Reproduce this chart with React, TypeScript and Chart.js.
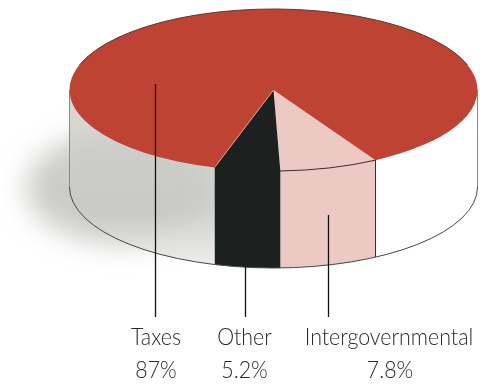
import React, { useEffect, useRef } from "react";
import { Chart, registerables } from "chart.js";

Chart.register(...registerables);

// Revenue shares, clockwise from the front-right edge of the disc
const categories = ["Intergovernmental", "Other", "Taxes"];
const shares = [7.8, 5.2, 87];
const topColors = ["#ecc9c3", "#1c211f", "#bf4332"];
const wallColors = ["#ecc9c3", "#1c211f", "#ffffff"];
const startRotation = 150;

// Order of the captions under the drum
const captionOrder = ["Taxes", "Other", "Intergovernmental"];

const DISC = { cx: 273.5, cy: 90, rx: 204, ry: 81, depth: 97 };
const LEADERS: Record<string, { x: number; from: number; to: number; textX: number }> = {
  Taxes: { x: 155.5, from: 84, to: 317, textX: 156 },
  Other: { x: 245.5, from: 267, to: 317, textX: 244.5 },
  Intergovernmental: { x: 328.5, from: 215, to: 317, textX: 389 },
};
const CAPTION_SQUEEZE = 0.93;

const TAU = Math.PI * 2;

// Splits an arc into the runs of it that lie on the visible, front half of the drum
function frontRuns(start: number, end: number): [number, number][] {
  const runs: [number, number][] = [];
  for (let k = -1; k <= 2; k++) {
    const a = Math.max(start, k * TAU);
    const b = Math.min(end, k * TAU + Math.PI);
    if (b > a) runs.push([a, b]);
  }
  return runs;
}

function wallPath(ctx: CanvasRenderingContext2D, a: number, b: number) {
  const { cx, cy, rx, ry, depth } = DISC;
  ctx.beginPath();
  ctx.ellipse(cx, cy, rx, ry, 0, a, b, false);
  ctx.ellipse(cx, cy + depth, rx, ry, 0, b, a, true);
  ctx.closePath();
}

function squeezedText(ctx: CanvasRenderingContext2D, text: string, x: number, y: number) {
  ctx.save();
  ctx.translate(x, y);
  ctx.scale(CAPTION_SQUEEZE, 1);
  ctx.fillText(text, 0, 0);
  ctx.restore();
}

const drumPlugin = {
  id: "drum",
  beforeDatasetsDraw(chart: Chart) {
    const { ctx } = chart;
    const { cx, cy, rx, ry, depth } = DISC;
    const arcs = chart.getDatasetMeta(0).data as any[];

    // Soft cast shadow behind the left of the drum
    ctx.save();
    ctx.filter = "blur(14px)";
    ctx.fillStyle = "#cbccc8";
    ctx.beginPath();
    ctx.ellipse(122, 188, 96, 56, 0, 0, TAU);
    ctx.fill();
    ctx.restore();

    arcs.forEach((arc, i) => {
      frontRuns(arc.startAngle, arc.endAngle).forEach(([a, b]) => {
        const isBackdrop = wallColors[i] === "#ffffff";
        const onLeft = Math.cos((a + b) / 2) < 0;
        wallPath(ctx, a, b);
        if (isBackdrop && onLeft) {
          const g = ctx.createLinearGradient(0, cy + 40, 0, cy + depth + ry);
          g.addColorStop(0, "rgba(205,206,203,0.8)");
          g.addColorStop(0.6, "rgba(200,202,198,0.75)");
          g.addColorStop(1, "rgba(238,239,237,0.95)");
          ctx.fillStyle = g;
        } else {
          ctx.fillStyle = wallColors[i];
        }
        ctx.fill();
      });
    });

    // Silhouette of the drum: side edges and bottom rim
    ctx.save();
    ctx.lineWidth = 1;
    ctx.strokeStyle = "#8a8a88";
    ctx.beginPath();
    ctx.moveTo(cx - rx, cy);
    ctx.lineTo(cx - rx, cy + depth);
    ctx.moveTo(cx + rx, cy);
    ctx.lineTo(cx + rx, cy + depth);
    ctx.stroke();
    ctx.strokeStyle = "#444645";
    ctx.beginPath();
    ctx.ellipse(cx, cy + depth, rx, ry, 0, 0, Math.PI);
    ctx.stroke();
    ctx.restore();

    // Flatten the circular pie into the top face of the drum
    const first = arcs[0];
    ctx.save();
    ctx.translate(cx, cy);
    ctx.scale(rx / first.outerRadius, ry / first.outerRadius);
    ctx.translate(-first.x, -first.y);
  },
  afterDatasetsDraw(chart: Chart) {
    const { ctx } = chart;
    const { cx, cy, rx, ry, depth } = DISC;
    ctx.restore();

    const arcs = chart.getDatasetMeta(0).data as any[];
    const pointAt = (t: number) => [cx + rx * Math.cos(t), cy + ry * Math.sin(t)];

    // Outline of the top face, darker along the far rim
    ctx.save();
    ctx.lineWidth = 1;
    ctx.strokeStyle = "#5a3a34";
    ctx.beginPath();
    ctx.ellipse(cx, cy, rx, ry, 0, Math.PI * 1.1, Math.PI * 1.9);
    ctx.stroke();

    // The dark slice runs over the rim without a visible join
    ctx.strokeStyle = topColors[1];
    ctx.lineWidth = 1.5;
    ctx.beginPath();
    ctx.ellipse(cx, cy, rx, ry, 0, arcs[1].startAngle, arcs[1].endAngle);
    ctx.stroke();
    ctx.lineWidth = 1;

    // Slice edges: the pale seam beside the red face and the rim of the pink wall
    const seam = pointAt(arcs[1].endAngle);
    ctx.strokeStyle = "#dd9a8c";
    ctx.beginPath();
    ctx.moveTo(cx, cy);
    ctx.lineTo(seam[0], seam[1]);
    ctx.stroke();

    const pink = arcs[0];
    ctx.strokeStyle = "#3a2c2a";
    ctx.beginPath();
    ctx.ellipse(cx, cy, rx, ry, 0, pink.startAngle, pink.endAngle);
    ctx.stroke();
    const corner = pointAt(pink.startAngle);
    ctx.beginPath();
    ctx.moveTo(corner[0], corner[1]);
    ctx.lineTo(corner[0], corner[1] + depth);
    ctx.stroke();

    // Leader lines and captions
    ctx.strokeStyle = "#111111";
    ctx.lineWidth = 1.3;
    ctx.fillStyle = "#2a2a2a";
    ctx.textAlign = "center";
    ctx.textBaseline = "alphabetic";
    ctx.font = '300 23px "Lato"';
    captionOrder.forEach((name) => {
      const spot = LEADERS[name];
      ctx.beginPath();
      ctx.moveTo(spot.x, spot.from);
      ctx.lineTo(spot.x, spot.to);
      ctx.stroke();
      const value = shares[categories.indexOf(name)];
      squeezedText(ctx, name, spot.textX, 345);
      squeezedText(ctx, `${value}%`, spot.textX + (name === "Intergovernmental" ? 1 : 0), 378);
    });
    ctx.restore();
  },
};

export default function App() {
  const canvasRef = useRef<HTMLCanvasElement>(null);

  useEffect(() => {
    const chart = new Chart(canvasRef.current!, {
      type: "pie",
      data: {
        labels: categories,
        datasets: [
          {
            data: shares,
            backgroundColor: topColors,
            borderWidth: 0,
            clip: false,
          } as any,
        ],
      },
      options: {
        responsive: false,
        animation: false,
        rotation: startRotation,
        layout: { padding: 0 },
        plugins: { legend: { display: false }, tooltip: { enabled: false } },
      },
      plugins: [drumPlugin],
    });
    return () => chart.destroy();
  }, []);

  return (
    <div style={{ position: "absolute", left: 0, top: 0, width: 480, height: 386, background: "#ffffff" }}>
      <canvas ref={canvasRef} width={480} height={386} style={{ display: "block" }} />
    </div>
  );
}
